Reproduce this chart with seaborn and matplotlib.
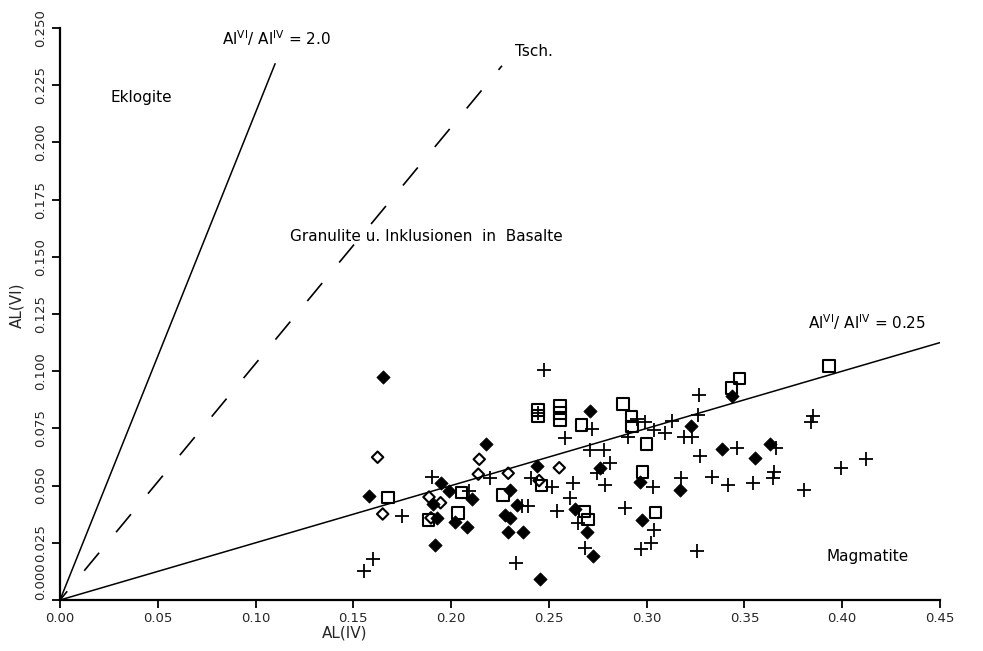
import matplotlib
matplotlib.use("Agg")
import matplotlib.pyplot as plt
import seaborn as sns
import pandas as pd

# ---- data ----
fd_x = [0.165, 0.1578, 0.2178, 0.1946, 0.1990, 0.1908, 0.2105, 0.2019, 0.2079, 0.1926,
        0.1917, 0.2301, 0.2437, 0.2710, 0.2275, 0.2301, 0.2292, 0.2369, 0.2454, 0.2633,
        0.2695, 0.2725, 0.2761, 0.2968, 0.2978, 0.3172, 0.3228, 0.3434, 0.3383, 0.3553,
        0.3630, 0.2335]
fd_y = [0.0974, 0.0456, 0.0682, 0.0510, 0.0477, 0.0420, 0.0440, 0.0342, 0.0318, 0.0357,
        0.0240, 0.0481, 0.0586, 0.0825, 0.0372, 0.0357, 0.0299, 0.0299, 0.0091, 0.0396,
        0.0299, 0.0191, 0.0576, 0.0517, 0.0350, 0.0482, 0.0759, 0.0892, 0.0659, 0.0620,
        0.0681, 0.0415]

od_x = [0.1624, 0.1650, 0.2144, 0.2139, 0.1887, 0.1946, 0.1897, 0.2292, 0.2450, 0.2553]
od_y = [0.0624, 0.0376, 0.0615, 0.0550, 0.0450, 0.0425, 0.0359, 0.0554, 0.0522, 0.0578]

sq_x = [0.1678, 0.2445, 0.2445, 0.2556, 0.2556, 0.2556, 0.2667, 0.2880, 0.2923, 0.2926,
        0.2999, 0.2978, 0.3046, 0.2682, 0.2701, 0.2266, 0.2463, 0.2054, 0.2036, 0.1883,
        0.3933, 0.3476, 0.3434]
sq_y = [0.0447, 0.0831, 0.0805, 0.0848, 0.0818, 0.0787, 0.0765, 0.0856, 0.0801, 0.0758,
        0.0681, 0.0559, 0.0383, 0.0386, 0.0351, 0.0459, 0.0501, 0.0469, 0.0381, 0.0350,
        0.1023, 0.0969, 0.0926]

pl_x = [0.1750, 0.1602, 0.1554, 0.2476, 0.2445, 0.2718, 0.2953, 0.2991, 0.2905, 0.3040,
        0.3093, 0.3127, 0.3192, 0.3230, 0.3267, 0.3260, 0.3272, 0.2582, 0.2710, 0.2781,
        0.2200, 0.1900, 0.2091, 0.2408, 0.2518, 0.2624, 0.2607, 0.2539, 0.2360, 0.2394,
        0.2331, 0.2650, 0.2684, 0.2744, 0.2812, 0.2786, 0.3033, 0.2889, 0.3039, 0.2970,
        0.3021, 0.3175, 0.3257, 0.3851, 0.3839, 0.3460, 0.3661, 0.3652, 0.3644, 0.3335,
        0.3417, 0.3544, 0.3804, 0.3993, 0.4121]
pl_y = [0.0369, 0.0178, 0.0125, 0.1006, 0.0818, 0.0746, 0.0790, 0.0780, 0.0713, 0.0742,
        0.0730, 0.0781, 0.0714, 0.0714, 0.0898, 0.0809, 0.0628, 0.0708, 0.0656, 0.0656,
        0.0533, 0.0538, 0.0477, 0.0533, 0.0494, 0.0513, 0.0444, 0.0389, 0.0412, 0.0411,
        0.0163, 0.0335, 0.0226, 0.0554, 0.0599, 0.0503, 0.0495, 0.0402, 0.0304, 0.0222,
        0.0248, 0.0532, 0.0213, 0.0805, 0.0780, 0.0666, 0.0666, 0.0558, 0.0535, 0.0537,
        0.0503, 0.0510, 0.0481, 0.0576, 0.0617]

# reference lines (end points)
line_20_x = [0.0, 0.110]
line_20_y = [0.0, 0.2344]
tsch_x = [0.0, 0.226]
tsch_y = [0.0, 0.2335]
line_025_x = [0.0, 0.45]
line_025_y = [0.0, 0.1125]

x_ticks = [0.00, 0.05, 0.10, 0.15, 0.20, 0.25, 0.30, 0.35, 0.40, 0.45]
y_ticks = [0.000, 0.025, 0.050, 0.075, 0.100, 0.125, 0.150, 0.175, 0.200, 0.225, 0.250]

# ---- figure ----
sns.set_style("ticks")
plt.rcParams['font.family'] = ['DejaVu Sans']

fig = plt.figure(figsize=(9.83, 6.51), dpi=100)
ax = fig.add_axes([60/983, 1 - 600/651, 880/983, 572/651])

ax.plot(line_20_x, line_20_y, color="black", lw=1.1)
ax.plot(tsch_x, tsch_y, color="black", lw=1.2, linestyle=(7.2, (14, 16)))
ax.plot(line_025_x, line_025_y, color="black", lw=1.1)

sns.scatterplot(x=pl_x, y=pl_y, marker="+", color="black", s=90, linewidth=1.3, ax=ax, zorder=3)
sns.scatterplot(x=sq_x, y=sq_y, marker="s", color="black", facecolor="none",
                edgecolor="black", s=68, linewidth=1.5, ax=ax, zorder=3)
sns.scatterplot(x=od_x, y=od_y, marker="D", color="black", facecolor="none",
                edgecolor="black", s=34, linewidth=1.5, ax=ax, zorder=3)
sns.scatterplot(x=fd_x, y=fd_y, marker="D", color="black", edgecolor="black",
                s=46, linewidth=0.5, ax=ax, zorder=4)

ax.set_xlim(0, 0.45)
ax.set_ylim(0, 0.25)
ax.set_xticks(x_ticks)
ax.set_xticklabels([f"{v:.2f}" for v in x_ticks], fontsize=9.5)
ax.set_yticks(y_ticks)
ax.set_yticklabels([f"{v:.3f}" for v in y_ticks], fontsize=9.5, rotation=90, va="center")
ax.get_yticklabels()[0].set_va("bottom")
ax.tick_params(axis="both", direction="out", length=6, width=1.3, color="black", pad=3)

sns.despine(ax=ax)
for s in ("left", "bottom"):
    ax.spines[s].set_linewidth(1.6)
    ax.spines[s].set_color("black")

ax.set_xlabel("AL(IV)", fontsize=11, labelpad=1)
ax.xaxis.set_label_coords(0.324, -0.045)
ax.set_ylabel("AL(VI)", fontsize=11, labelpad=2)
ax.yaxis.set_label_coords(-0.040, 0.516)

txt = dict(color="black", fontsize=11, va="center", ha="left")
ax.text(0.0828, 0.2457, r"Al$^{\mathrm{VI}}$/ Al$^{\mathrm{IV}}$ = 2.0", **txt)
ax.text(0.2326, 0.2396, "Tsch.", **txt)
ax.text(0.0256, 0.2195, "Eklogite", **txt)
ax.text(0.1176, 0.1587, "Granulite u. Inklusionen  in  Basalte", **txt)
ax.text(0.3824, 0.1216, r"Al$^{\mathrm{VI}}$/ Al$^{\mathrm{IV}}$ = 0.25", **txt)
ax.text(0.392, 0.0188, "Magmatite", **txt)

fig.savefig("out.png", dpi=100, facecolor="white")
